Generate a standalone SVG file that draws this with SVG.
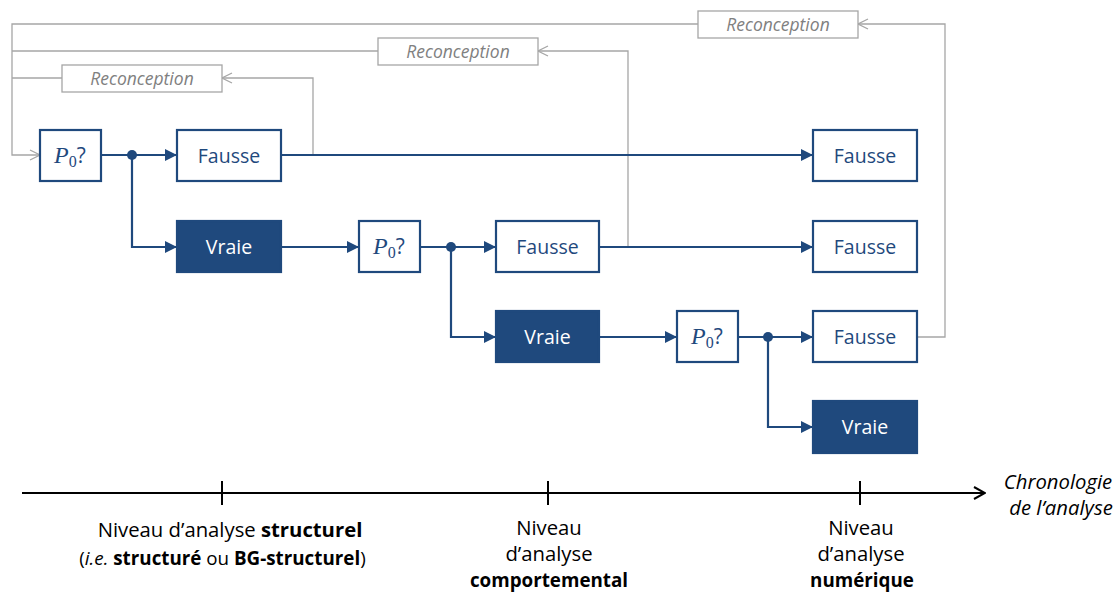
<svg xmlns="http://www.w3.org/2000/svg" width="1117" height="593" viewBox="0 0 1117 593">
<defs>
<style>
.box{fill:#fff;stroke:#1F497D;stroke-width:2.2}
.boxf{fill:#1F497D;stroke:#1F497D;stroke-width:2.2}
.lbl{font-family:"Open Sans","Liberation Sans",sans-serif;font-size:19.5px;fill:#1F497D;text-anchor:middle}
.lblw{font-family:"Open Sans","Liberation Sans",sans-serif;font-size:19.5px;fill:#fff;text-anchor:middle}
.blue{fill:none;stroke:#1F497D;stroke-width:2.2}
.grey{fill:none;stroke:#A6A6A6;stroke-width:1.3}
.gbox{fill:#fff;stroke:#A6A6A6;stroke-width:1.3}
.gtxt{font-family:"Open Sans","Liberation Sans",sans-serif;font-size:17.5px;font-style:italic;fill:#808080;text-anchor:middle}
.p{font-family:"Liberation Serif",serif;font-style:italic;font-size:24px;fill:#1F497D}
.sub{font-family:"Liberation Serif",serif;font-size:16px;fill:#1F497D}
.q{font-family:"Open Sans","Liberation Sans",sans-serif;font-size:21px;fill:#1F497D}
.axis{fill:none;stroke:#000;stroke-width:2}
.tl{font-family:"Open Sans","Liberation Sans",sans-serif;font-size:20.3px;fill:#000;text-anchor:middle}
.sm{font-size:18.8px}
</style>
<marker id="ab" viewBox="0 0 12 12" refX="12" refY="6" markerWidth="12" markerHeight="12" markerUnits="userSpaceOnUse" orient="auto"><path d="M0,0 L12,6 L0,12 Z" fill="#1F497D"/></marker>
<marker id="ag" viewBox="0 0 12 12" refX="11" refY="6" markerWidth="12" markerHeight="12" markerUnits="userSpaceOnUse" orient="auto"><path d="M1,1 L11,6 L1,11" fill="none" stroke="#A6A6A6" stroke-width="1.3"/></marker>
<marker id="ak" viewBox="0 0 14 14" refX="13" refY="7" markerWidth="14" markerHeight="14" markerUnits="userSpaceOnUse" orient="auto"><path d="M2,1 L13,7 L2,13" fill="none" stroke="#000" stroke-width="2"/></marker>
</defs>
<rect width="1117" height="593" fill="#fff"/>
<g id="connectors">
<path class="grey" d="M313,155 V78 H222" marker-end="url(#ag)"/>
<path class="grey" d="M62,78 H12"/>
<path class="grey" d="M628,247 V51 H538" marker-end="url(#ag)"/>
<path class="grey" d="M378,51 H12"/>
<path class="grey" d="M917,337 H945 V24 H858" marker-end="url(#ag)"/>
<path class="grey" d="M698,24 H12 V155 H40" marker-end="url(#ag)"/>
<path class="blue" d="M101,155 H177" marker-end="url(#ab)"/>
<path class="blue" d="M132,155 V247 H177" marker-end="url(#ab)"/>
<path class="blue" d="M281,155 H813" marker-end="url(#ab)"/>
<path class="blue" d="M281,247 H359" marker-end="url(#ab)"/>
<path class="blue" d="M420,247 H496" marker-end="url(#ab)"/>
<path class="blue" d="M451,247 V337 H496" marker-end="url(#ab)"/>
<path class="blue" d="M599,247 H813" marker-end="url(#ab)"/>
<path class="blue" d="M599,337 H677" marker-end="url(#ab)"/>
<path class="blue" d="M738,337 H813" marker-end="url(#ab)"/>
<path class="blue" d="M768,337 V427 H813" marker-end="url(#ab)"/>
<circle cx="132" cy="155" r="5" fill="#1F497D"/>
<circle cx="451" cy="247" r="5" fill="#1F497D"/>
<circle cx="768" cy="337" r="5" fill="#1F497D"/>
</g>
<g id="reconception1"><rect class="gbox" x="62" y="65" width="160" height="27"/><text class="gtxt" x="142" y="85">Reconception</text></g>
<g id="reconception2"><rect class="gbox" x="378" y="38" width="160" height="27"/><text class="gtxt" x="458" y="58">Reconception</text></g>
<g id="reconception3"><rect class="gbox" x="698" y="11" width="160" height="27"/><text class="gtxt" x="778" y="31">Reconception</text></g>
<g id="p0-1"><rect class="box" x="40" y="130" width="61" height="51"/><text x="54" y="163"><tspan class="p">P</tspan><tspan class="sub" dy="4">0</tspan><tspan class="q" dy="-4">?</tspan></text></g>
<g id="fausse1"><rect class="box" x="177" y="130" width="104" height="51"/><text class="lbl" x="229" y="163">Fausse</text></g>
<g id="vraie1"><rect class="boxf" x="177" y="221" width="104" height="51"/><text class="lblw" x="229" y="254">Vraie</text></g>
<g id="p0-2"><rect class="box" x="359" y="221" width="61" height="51"/><text x="373" y="254"><tspan class="p">P</tspan><tspan class="sub" dy="4">0</tspan><tspan class="q" dy="-4">?</tspan></text></g>
<g id="fausse2"><rect class="box" x="496" y="221" width="103" height="51"/><text class="lbl" x="547.5" y="254">Fausse</text></g>
<g id="vraie2"><rect class="boxf" x="496" y="311" width="103" height="51"/><text class="lblw" x="547.5" y="344">Vraie</text></g>
<g id="p0-3"><rect class="box" x="677" y="311" width="61" height="51"/><text x="691" y="344"><tspan class="p">P</tspan><tspan class="sub" dy="4">0</tspan><tspan class="q" dy="-4">?</tspan></text></g>
<g id="fausse3"><rect class="box" x="813" y="311" width="104" height="51"/><text class="lbl" x="865" y="344">Fausse</text></g>
<g id="vraie3"><rect class="boxf" x="813" y="401" width="104" height="52"/><text class="lblw" x="865" y="434">Vraie</text></g>
<g id="fausseR1"><rect class="box" x="813" y="130" width="104" height="51"/><text class="lbl" x="865" y="163">Fausse</text></g>
<g id="fausseR2"><rect class="box" x="813" y="221" width="104" height="51"/><text class="lbl" x="865" y="254">Fausse</text></g>
<g id="timeline">
<path class="axis" d="M22,493 H985" marker-end="url(#ak)"/>
<path class="axis" d="M222,481 V505 M548,481 V505 M860,481 V505"/>
<text class="tl" x="230" y="537">Niveau d’analyse <tspan font-weight="bold">structurel</tspan></text>
<text class="tl sm" x="222.5" y="565">(<tspan font-style="italic">i.e.</tspan> <tspan font-weight="bold">structuré</tspan> ou <tspan font-weight="bold">BG-structurel</tspan>)</text>
<text class="tl" x="549" y="535">Niveau</text>
<text class="tl" x="549" y="561">d’analyse</text>
<text class="tl sm" x="549" y="587" font-weight="bold">comportemental</text>
<text class="tl" x="861" y="535">Niveau</text>
<text class="tl" x="861" y="561">d’analyse</text>
<text class="tl sm" x="862" y="587" font-weight="bold">numérique</text>
<text class="tl" x="1058" y="489" font-style="italic">Chronologie</text>
<text class="tl" x="1061" y="515" font-style="italic">de l’analyse</text>
</g>
</svg>
